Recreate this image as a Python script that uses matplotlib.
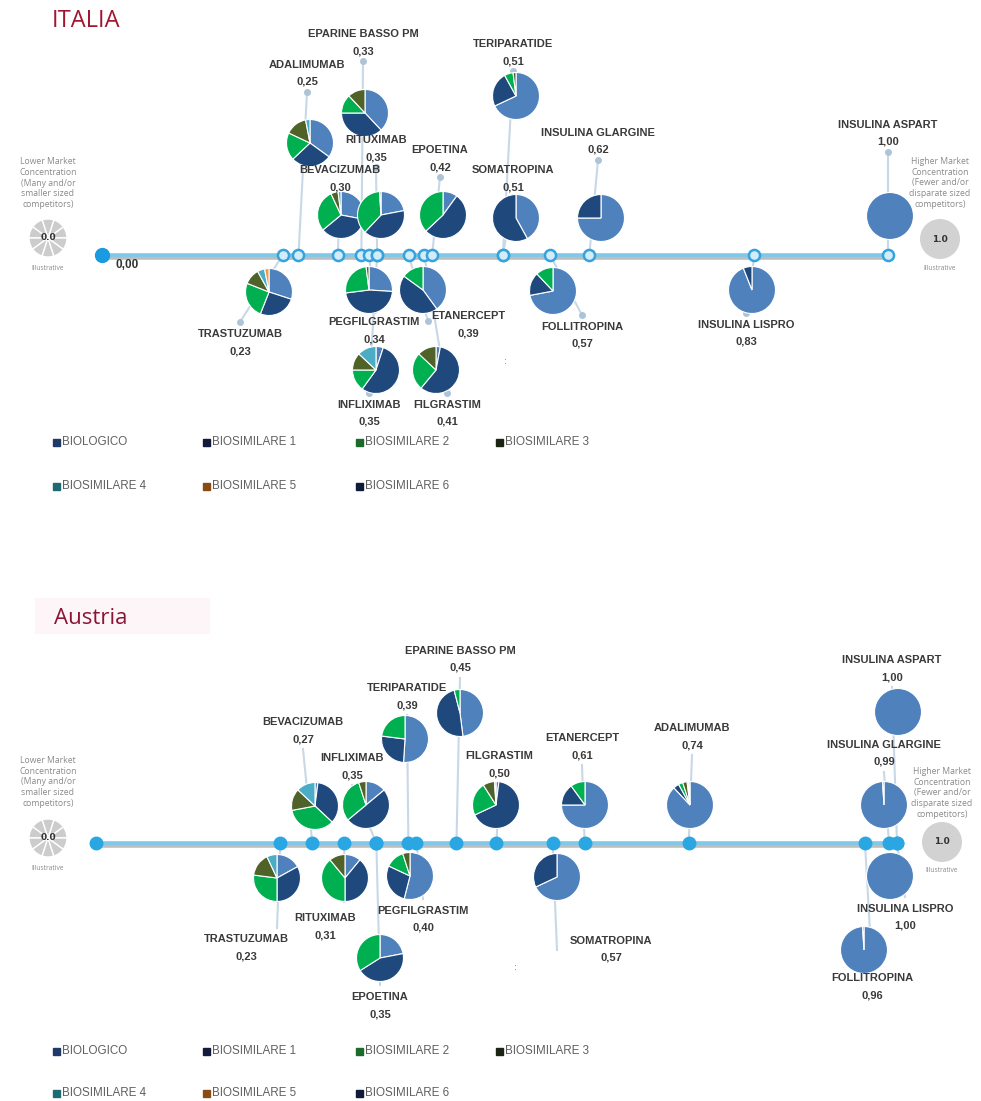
import matplotlib
matplotlib.use('Agg')
import matplotlib.pyplot as plt
from matplotlib import font_manager
from matplotlib.patches import Rectangle

W, H = 981, 1101

#------------------------------------------------------------
# Data
series = ['BIOLOGICO', 'BIOSIMILARE 1', 'BIOSIMILARE 2', 'BIOSIMILARE 3',
          'BIOSIMILARE 4', 'BIOSIMILARE 5', 'BIOSIMILARE 6']

# ITALIA: concentration index and market shares (%) per series
it_names = ['TRASTUZUMAB', 'ADALIMUMAB', 'BEVACIZUMAB', 'EPARINE BASSO PM',
            'PEGFILGRASTIM', 'RITUXIMAB', 'INFLIXIMAB', 'ETANERCEPT',
            'FILGRASTIM', 'EPOETINA', 'TERIPARATIDE', 'SOMATROPINA',
            'FOLLITROPINA', 'INSULINA GLARGINE', 'INSULINA LISPRO',
            'INSULINA ASPART']
it_values = [0.23, 0.25, 0.30, 0.33, 0.34, 0.35, 0.35, 0.39,
             0.41, 0.42, 0.51, 0.51, 0.57, 0.62, 0.83, 1.00]
it_shares = [[30, 26, 25, 11, 5, 3, 0],
             [35, 28, 19, 15, 3, 0, 0],
             [28, 36, 29, 5, 2, 0, 0],
             [38, 37, 13, 12, 0, 0, 0],
             [26, 47, 25, 2, 0, 0, 0],
             [22, 40, 37, 1, 0, 0, 0],
             [5, 55, 15, 12, 13, 0, 0],
             [40, 45, 15, 0, 0, 0, 0],
             [3, 58, 26, 13, 0, 0, 0],
             [10, 53, 37, 0, 0, 0, 0],
             [68, 24, 6, 2, 0, 0, 0],
             [42, 58, 0, 0, 0, 0, 0],
             [72, 16, 12, 0, 0, 0, 0],
             [75, 25, 0, 0, 0, 0, 0],
             [94, 6, 0, 0, 0, 0, 0],
             [100, 0, 0, 0, 0, 0, 0]]

# AUSTRIA
at_names = ['TRASTUZUMAB', 'BEVACIZUMAB', 'RITUXIMAB', 'INFLIXIMAB',
            'EPOETINA', 'TERIPARATIDE', 'PEGFILGRASTIM', 'EPARINE BASSO PM',
            'FILGRASTIM', 'SOMATROPINA', 'ETANERCEPT', 'ADALIMUMAB',
            'FOLLITROPINA', 'INSULINA GLARGINE', 'INSULINA ASPART',
            'INSULINA LISPRO']
at_values = [0.23, 0.27, 0.31, 0.35, 0.35, 0.39, 0.40, 0.45,
             0.50, 0.57, 0.61, 0.74, 0.96, 0.99, 1.00, 1.00]
at_shares = [[17, 33, 27, 16, 7, 0, 0],
             [2, 35, 35, 15, 13, 0, 0],
             [11, 39, 39, 11, 0, 0, 0],
             [14, 50, 31, 5, 0, 0, 0],
             [22, 44, 34, 0, 0, 0, 0],
             [51, 26, 23, 0, 0, 0, 0],
             [54, 28, 13, 5, 0, 0, 0],
             [48, 48, 4, 0, 0, 0, 0],
             [2, 66, 23, 8, 1, 0, 0],
             [68, 32, 0, 0, 0, 0, 0],
             [75, 15, 10, 0, 0, 0, 0],
             [88, 4, 3, 3, 1, 1, 0],
             [99, 1, 0, 0, 0, 0, 0],
             [99, 1, 0, 0, 0, 0, 0],
             [100, 0, 0, 0, 0, 0, 0],
             [100, 0, 0, 0, 0, 0, 0]]

#------------------------------------------------------------
# Layout (pixel positions of pie centres and labels)
it_pie_x = [269, 310, 341, 365, 369, 381, 376, 423, 436, 443, 516, 516, 553, 601, 752, 890]
it_pie_y = [292, 143, 215, 113, 290, 215, 370, 290, 370, 215, 96, 218, 291, 218, 290, 216]
it_lab_x = [240, 307, 340, 363, 374, 376, 369, 468, 447, 440, 513, 513, 582, 598, 746, 888]
it_lab_y = [334, 65, 170, 34, 322, 140, 405, 316, 405, 150, 44, 170, 327, 133, 325, 125]
it_tips = {7: (428, 321)}

at_pie_x = [277, 315, 345, 366, 380, 405, 410, 460, 496, 557, 585, 690, 864, 884, 898, 890]
at_pie_y = [878, 806, 878, 805, 958, 739, 876, 713, 805, 877, 805, 805, 950, 805, 712, 876]
at_lab_x = [246, 303, 325, 352, 380, 407, 423, 460, 499, 611, 582, 692, 872, 884, 892, 905]
at_lab_y = [939, 722, 918, 758, 997, 688, 911, 651, 756, 941, 738, 728, 978, 745, 660, 909]
at_tips = {0: (277, 928), 2: (344, 902), 9: (557, 950)}

pie_colors = ['#4f81bd', '#1f497d', '#00b050', '#4f6228',
              '#4bacc6', '#f79646', '#17375e']
legend_colors = ['#1f3a68', '#141a3c', '#1d6b2a', '#1b2412',
                 '#1f6a72', '#8a4a14', '#121a3a']

installed = {f.name for f in font_manager.fontManager.ttflist}
narrow = 'Liberation Sans Narrow' in installed
lab_font = ['Liberation Sans Narrow', 'Liberation Sans', 'DejaVu Sans']
lab_size = 9.4 if narrow else 8.0
leg_size = 10.2 if narrow else 8.4

fig = plt.figure(figsize=(W / 100, H / 100), dpi=100)


def fx(px):
    return px / W


def fy(py):
    return 1 - py / H


def draw_panel(top, bottom, line_y, x0, x1, names, values, shares,
               pie_x, pie_y, lab_x, lab_y, tips, ring, side):
    S = float(x1 - x0)
    ax = fig.add_axes([0, 1 - bottom / H, 1, (bottom - top) / H])

    def d(px, py):
        return (px - x0) / S, (line_y - py) / S

    r = 23.5 / S
    # axis line
    ax.plot([0, 1], [-1.5 / S, -1.5 / S], color='#bdbdbd', lw=4,
            solid_capstyle='butt', zorder=1)
    ax.plot([0, 1], [0, 0], color='#7dc9ec', lw=2.6,
            solid_capstyle='butt', zorder=1.5)

    for i, name in enumerate(names):
        v = values[i]
        above = pie_y[i] < line_y
        if i in tips:
            tip = d(*tips[i])
        elif above:
            tip = d(lab_x[i], lab_y[i] + 27)
        else:
            tip = d(lab_x[i], lab_y[i] - 12)
        ax.plot([v, tip[0]], [0, tip[1]], color='#c9d8e6', lw=1.5, zorder=2)
        if ring:
            ax.plot(*tip, 'o', ms=4, color='#adc4d8', zorder=2)

        fr = [s for s in shares[i] if s > 0]
        cl = [c for s, c in zip(shares[i], pie_colors) if s > 0]
        wedges, _ = ax.pie(fr, colors=cl, startangle=90, counterclock=False,
                           center=d(pie_x[i], pie_y[i]), radius=r, frame=True,
                           wedgeprops=dict(edgecolor='white', linewidth=0.8))
        for w in wedges:
            w.set_zorder(4)

        ax.text(*d(lab_x[i], lab_y[i]), name, ha='center', va='center',
                family=lab_font, fontsize=lab_size, fontweight='bold',
                color='#3a3a3a', zorder=6)
        ax.text(*d(lab_x[i], lab_y[i] + 17), ('%.2f' % v).replace('.', ','),
                ha='center', va='center', family=lab_font, fontsize=lab_size,
                fontweight='bold', color='#3a3a3a', zorder=6)

    # dots on the axis
    if ring:
        ax.plot(values, [0] * len(values), 'o', ms=8, mfc='#d3ecf9',
                mec='#35a3de', mew=1.8, zorder=5)
        ax.plot([0], [0], 'o', ms=10, color='#1a9ae0', zorder=5)
        ax.text(*d(x0 + 14, line_y + 10), '0,00', ha='left', va='center',
                family=lab_font, fontsize=lab_size + 0.5, fontweight='bold',
                color='#333333')
    else:
        ax.plot([0] + values, [0] * (len(values) + 1), 'o', ms=9,
                color='#2aa7e2', zorder=5)

    # illustrative gauges at both ends
    (lx, lt, lc, li), (rx, rt, rc, ri) = side
    ax.text(*d(lx, lt), 'Lower Market\nConcentration\n(Many and/or\nsmaller sized\ncompetitors)',
            ha='center', va='center', family=['Open Sans', 'DejaVu Sans'],
            fontsize=6.2, color='#8a8a8a', linespacing=1.25)
    ax.pie([1] * 10, colors=['#cccccc'] * 10, center=d(lx, lc), radius=19 / S,
           frame=True, wedgeprops=dict(edgecolor='white', linewidth=1))
    ax.text(*d(lx, lc), '0.0', ha='center', va='center', fontsize=6.5,
            fontweight='bold', color='#333333', zorder=6)
    ax.text(*d(lx, li), 'Illustrative', ha='center', va='center',
            family=['Open Sans', 'DejaVu Sans'], fontsize=4.8, color='#8a8a8a')

    ax.text(*d(rx, rt), 'Higher Market\nConcentration\n(Fewer and/or\ndisparate sized\ncompetitors)',
            ha='center', va='center', family=['Open Sans', 'DejaVu Sans'],
            fontsize=6.2, color='#8a8a8a', linespacing=1.25)
    ax.pie([1], colors=['#d2d2d2'], center=d(rx, rc), radius=20 / S,
           frame=True, wedgeprops=dict(linewidth=0))
    ax.text(*d(rx, rc), '1.0', ha='center', va='center', fontsize=6.5,
            fontweight='bold', color='#333333', zorder=6)
    ax.text(*d(rx, ri), 'Illustrative', ha='center', va='center',
            family=['Open Sans', 'DejaVu Sans'], fontsize=4.8, color='#8a8a8a')

    ax.set_xlim(-x0 / S, (W - x0) / S)
    ax.set_ylim(-(bottom - line_y) / S, (line_y - top) / S)
    ax.set_aspect('auto')
    ax.axis('off')
    return ax


def draw_legend(y1, y2):
    xs = [57, 207, 360, 500]
    for i, name in enumerate(series):
        row, col = divmod(i, 4)
        y = y1 if row == 0 else y2
        fig.add_artist(Rectangle((fx(xs[col] - 4), fy(y + 3.5)), 7 / W, 7 / H,
                                 transform=fig.transFigure,
                                 color=legend_colors[i]))
        fig.text(fx(xs[col] + 5), fy(y), name, ha='left', va='center',
                 family=lab_font, fontsize=leg_size, color='#606060')


# ITALIA
fig.text(fx(52), fy(21), 'ITALIA', ha='left', va='center',
         family=['Open Sans', 'DejaVu Sans'], fontsize=17, color='#a01830')
draw_panel(0, 430, 255, 102, 888, it_names, it_values, it_shares,
           it_pie_x, it_pie_y, it_lab_x, it_lab_y, it_tips, True,
           ((48, 183, 238, 268), (940, 183, 239, 268)))
fig.text(fx(505), fy(362), ':', ha='center', va='center', fontsize=6,
         color='#555555')
draw_legend(442, 486)

# AUSTRIA
fig.add_artist(Rectangle((fx(35), fy(634)), 175 / W, 36 / H,
                         transform=fig.transFigure, color='#fdf5f7', lw=0))
fig.text(fx(54), fy(619), 'Austria', ha='left', va='center',
         family=['Open Sans', 'DejaVu Sans'], fontsize=16, color='#8a1538')
draw_panel(640, 1030, 843, 96, 897, at_names, at_values, at_shares,
           at_pie_x, at_pie_y, at_lab_x, at_lab_y, at_tips, False,
           ((48, 782, 838, 868), (942, 793, 842, 870)))
fig.text(fx(515), fy(968), ':', ha='center', va='center', fontsize=6,
         color='#555555')
draw_legend(1051, 1093)

fig.savefig('out.png', dpi=100, facecolor='white')
